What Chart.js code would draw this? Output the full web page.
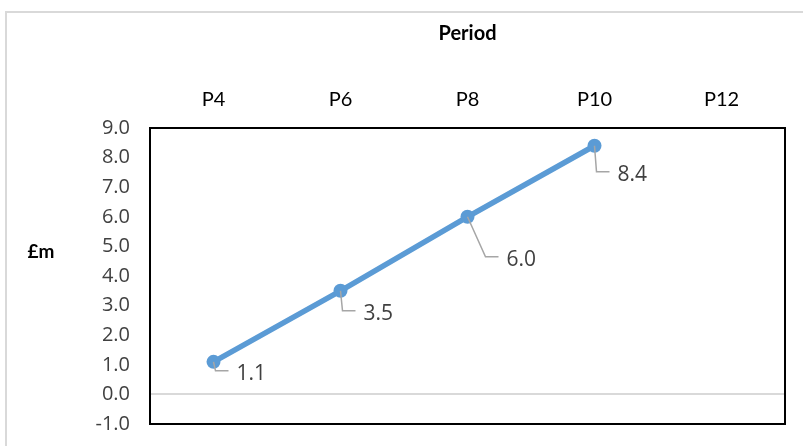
<!DOCTYPE html>
<html>
<head>
<meta charset="utf-8">
<script src="https://cdn.jsdelivr.net/npm/chart.js@4"></script>
<style>
  html, body { margin: 0; padding: 0; background: #fff; }
  #wrap { position: relative; width: 803px; height: 446px; }
</style>
</head>
<body>
<div id="wrap"><canvas id="chart" width="803" height="446"></canvas></div>
<script>
const periods = ['P4', 'P6', 'P8', 'P10', 'P12'];
const values = [1.1, 3.5, 6.0, 8.4, null];
const yMin = -1;
const yMax = 9;

const palette = {
  line: '#5B9BD5',
  text: '#404040',
  leader: '#A6A6A6',
  zero: '#D9D9D9',
  frame: '#D9D9D9'
};

// label placement: drop below the point and sideways lean of the leader line
const leaderDrop = [9, 20, 40, 26];
const leaderLean = [2, 2, 18, 2];

const framePlugin = {
  id: 'frame',
  beforeDraw(chart) {
    const ctx = chart.ctx;
    ctx.save();
    ctx.strokeStyle = palette.frame;
    ctx.lineWidth = 2;
    ctx.beginPath();
    ctx.moveTo(6, 460);
    ctx.lineTo(6, 12);
    ctx.lineTo(810, 12);
    ctx.stroke();
    // y title, horizontal like the original
    ctx.fillStyle = '#000';
    ctx.font = 'bold 19px Lato';
    ctx.textAlign = 'center';
    ctx.textBaseline = 'middle';
    ctx.fillText('£m', 41, 252);
    ctx.restore();
  },
  afterDraw(chart) {
    const a = chart.chartArea;
    const ctx = chart.ctx;
    ctx.save();
    ctx.strokeStyle = '#000';
    ctx.lineWidth = 2;
    ctx.strokeRect(a.left, a.top, a.right - a.left, a.bottom - a.top);
    ctx.restore();
  }
};

const labelPlugin = {
  id: 'leaderLabels',
  afterDatasetsDraw(chart) {
    const ctx = chart.ctx;
    const meta = chart.getDatasetMeta(0);
    ctx.save();
    meta.data.forEach((pt, i) => {
      const v = values[i];
      if (v === null || v === undefined) return;
      const drop = leaderDrop[i];
      const lean = leaderLean[i];
      const x = pt.x, y = pt.y;
      ctx.strokeStyle = palette.leader;
      ctx.lineWidth = 1.5;
      ctx.beginPath();
      ctx.moveTo(x, y);
      ctx.lineTo(x + lean, y + drop);
      ctx.lineTo(x + lean + 13, y + drop);
      ctx.stroke();
      ctx.fillStyle = palette.text;
      ctx.font = '21px "Open Sans"';
      ctx.textAlign = 'left';
      ctx.textBaseline = 'middle';
      ctx.fillText(v.toFixed(1), x + lean + 21, y + drop + 3);
    });
    ctx.restore();
  }
};

new Chart(document.getElementById('chart'), {
  type: 'line',
  data: {
    labels: periods,
    datasets: [{
      data: values,
      borderColor: palette.line,
      backgroundColor: palette.line,
      borderWidth: 5.5,
      pointRadius: 7,
      pointHoverRadius: 7,
      pointBackgroundColor: palette.line,
      pointBorderWidth: 0,
      tension: 0
    }]
  },
  options: {
    responsive: false,
    animation: false,
    layout: { padding: { left: 0, top: 0, right: 18, bottom: 22 } },
    plugins: {
      legend: { display: false },
      tooltip: { enabled: false }
    },
    scales: {
      x: {
        position: 'top',
        offset: true,
        grid: { display: false, drawTicks: false },
        border: { display: false },
        ticks: {
          color: '#000',
          font: { family: 'Lato', size: 20 },
          padding: 16
        },
        title: {
          display: true,
          text: 'Period',
          color: '#000',
          font: { family: 'Lato', size: 20, weight: 'bold' },
          padding: { top: 22, bottom: 0 }
        },
        afterFit(scale) {
          scale.height = 128;
          scale.paddingLeft = 0;
          scale.paddingRight = 0;
        }
      },
      y: {
        min: yMin,
        max: yMax,
        grid: {
          drawTicks: false,
          lineWidth: 2,
          color: c => (c.tick && c.tick.value === 0 ? palette.zero : 'rgba(0,0,0,0)')
        },
        border: { display: false },
        ticks: {
          stepSize: 1,
          color: palette.text,
          font: { family: 'Open Sans', size: 20 },
          padding: 20,
          callback: v => Number(v).toFixed(1)
        },
        afterFit(scale) {
          scale.width = 150;
          scale.paddingTop = 0;
          scale.paddingBottom = 0;
        }
      }
    }
  },
  plugins: [framePlugin, labelPlugin]
});
</script>
</body>
</html>
